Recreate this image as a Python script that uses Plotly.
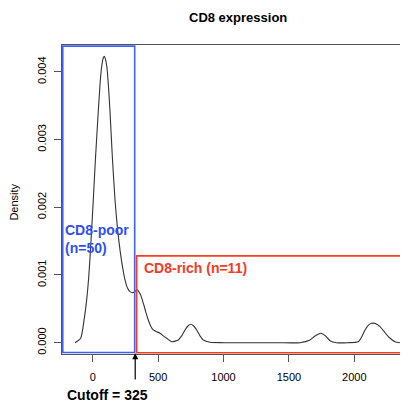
import plotly.graph_objects as go

# Density curve
expr = [-135, -92, -66, -46, -30, -17, 4.6, 20, 42.8, 60, 71, 80, 88.7, 97, 109, 120, 132, 150,
        170.5, 190, 208.7, 228, 247, 265, 285, 310, 341, 365, 387, 405, 425, 445, 463, 490,
        514.5, 540, 566, 604, 654, 680, 705.6, 730, 749, 770, 795, 820, 845.5, 897, 1000, 1200,
        1400, 1585, 1661, 1700, 1745, 1780, 1814, 1865, 1950, 2030, 2055, 2082, 2108, 2133,
        2165, 2196, 2230, 2260, 2290, 2311, 2349]
density = [0.0, 0.000065, 0.000336, 0.000632, 0.00098, 0.00137, 0.00211, 0.00268, 0.00342,
           0.00392, 0.00411, 0.00420, 0.00423, 0.00419, 0.00406, 0.00380, 0.00342, 0.00275,
           0.00211, 0.00168, 0.00137, 0.00112, 0.000927, 0.00081, 0.000754, 0.00074, 0.00078,
           0.00071, 0.000583, 0.00046, 0.000336, 0.00024, 0.000188, 0.00016, 0.000139, 0.0001,
           0.000065, 0.000015, 0.00004, 0.0001, 0.000188, 0.00025, 0.000272, 0.00025, 0.000188,
           0.0001, 0.00004, 0.000006, 0.0, 0.0, 0.0, 0.0, 0.00004, 0.0001, 0.000139, 0.0001,
           0.00003, 0.0, 0.0, 0.000015, 0.00008, 0.000188, 0.00026, 0.000287, 0.00028,
           0.000237, 0.00016, 0.000089, 0.00004, 0.000015, 0.0]

x_ticks = [0, 500, 1000, 1500, 2000]
y_ticks = [0.0, 0.001, 0.002, 0.003, 0.004]
y_tick_labels = ["0.000", "0.001", "0.002", "0.003", "0.004"]

cutoff = 325
poor_box = [-229, 321, -0.000145, 0.00438]
rich_box = [336, 2380, -0.000148, 0.001282]

FONT = "Liberation Sans, Arial, Helvetica, sans-serif"

fig = go.Figure()
fig.add_trace(go.Scatter(x=expr, y=density, mode="lines",
                         line=dict(color="#333333", width=1.1, shape="spline", smoothing=0.6),
                         hoverinfo="skip", showlegend=False))

fig.add_shape(type="rect", xref="x", yref="y",
              x0=poor_box[0], x1=poor_box[1], y0=poor_box[2], y1=poor_box[3],
              line=dict(color="#3f5fff", width=1.6))
fig.add_shape(type="rect", xref="x", yref="y",
              x0=rich_box[0], x1=rich_box[1], y0=rich_box[2], y1=rich_box[3],
              line=dict(color="#ff3b1f", width=1.6))

ann = []
ann.append(dict(text="<b>CD8 expression</b>", xref="paper", yref="paper", x=0.5087, y=1.0906,
                xanchor="center", yanchor="middle", showarrow=False,
                font=dict(family=FONT, size=13, color="black")))
ann.append(dict(text="Density", xref="paper", yref="paper", x=-0.1387, y=0.49,
                xanchor="center", yanchor="middle", textangle=-90, showarrow=False,
                font=dict(family=FONT, size=11, color="black")))
ann.append(dict(text="<b>CD8-poor<br>(n=50)</b>", xref="x", yref="y", x=-224, y=0.001534,
                xanchor="left", yanchor="middle", align="left", showarrow=False,
                font=dict(family=FONT, size=14, color="#3050f0")))
ann.append(dict(text="<b>CD8-rich (n=11)</b>", xref="x", yref="y", x=380, y=0.001105,
                xanchor="left", yanchor="middle", align="left", showarrow=False,
                font=dict(family=FONT, size=14, color="#f53a1e")))
ann.append(dict(text="<b>Cutoff = 325</b>", xref="paper", yref="paper", x=(67 - 62) / 346 - 0.005,
                y=-0.1327, xanchor="left", yanchor="middle", showarrow=False,
                font=dict(family=FONT, size=14, color="black")))
ann.append(dict(text="", xref="x", yref="y", x=cutoff, y=-0.000157,
                axref="x", ayref="y", ax=cutoff, ay=-0.000566, showarrow=True,
                arrowhead=2, arrowsize=1, arrowwidth=1.2, arrowcolor="black", standoff=0))

# page body has an 8px margin: figure is sized/offset to compensate
fig.update_layout(
    width=400, height=395,
    margin=dict(l=54, r=0, t=37, b=49, autoexpand=False),
    paper_bgcolor="white", plot_bgcolor="white",
    annotations=ann,
    font=dict(family=FONT, size=11, color="black"),
)
fig.update_xaxes(range=[-234.7, 2410.5], tickvals=x_ticks, ticktext=[str(v) for v in x_ticks],
                 showgrid=False, zeroline=False, showline=True, linecolor="#555555", linewidth=1,
                 mirror=True, ticks="outside", ticklen=7, tickcolor="#555555", automargin=False,
                 tickfont=dict(family=FONT, size=11, color="black"), ticklabelstandoff=6)
fig.update_yaxes(range=[-0.000167, 0.004396], tickvals=y_ticks, ticktext=y_tick_labels,
                 showgrid=False, zeroline=False, showline=True, linecolor="#555555", linewidth=1,
                 ticks="outside", ticklen=7, tickcolor="#555555", tickangle=-90, automargin=False,
                 tickfont=dict(family=FONT, size=11, color="black"), ticklabelstandoff=4)

fig.write_html("out.html")
